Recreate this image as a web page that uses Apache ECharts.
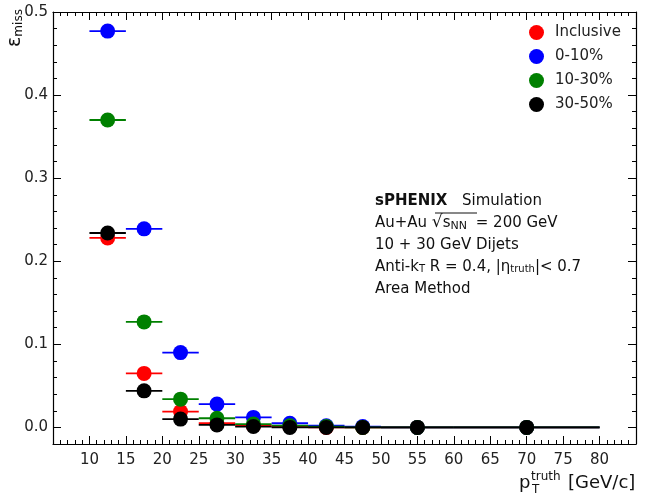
<!DOCTYPE html>
<html>
<head>
<meta charset="utf-8">
<script src="https://cdn.jsdelivr.net/npm/echarts@6/dist/echarts.min.js"></script>
<style>
  html, body { margin: 0; padding: 0; background: #fff; }
  #chart { width: 656px; height: 498px; }
</style>
</head>
<body>
<div id="chart"></div>
<script>
// pT truth bins (GeV/c): centres and edges
const binCenters = [12.5, 17.5, 22.5, 27.5, 32.5, 37.5, 42.5, 47.5, 55, 70];
const binLow     = [10, 15, 20, 25, 30, 35, 40, 45, 50, 60];
const binHigh    = [15, 20, 25, 30, 35, 40, 45, 50, 60, 80];

// miss probability per bin
const inclusive = [0.228, 0.065, 0.019, 0.005, 0.002, 0.001, 0.000, 0.000, 0.000, 0.000];
const cent0_10  = [0.477, 0.239, 0.090, 0.028, 0.012, 0.005, 0.002, 0.001, 0.000, 0.000];
const cent10_30 = [0.370, 0.127, 0.034, 0.011, 0.004, 0.002, 0.001, 0.000, 0.000, 0.000];
const cent30_50 = [0.234, 0.044, 0.010, 0.003, 0.001, 0.000, 0.000, 0.000, 0.000, 0.000];

const seriesNames = ['Inclusive', '0-10%', '10-30%', '30-50%'];
const seriesValues = [inclusive, cent0_10, cent10_30, cent30_50];
const seriesColors = ['#ff0000', '#0000ff', '#008000', '#000000'];

const yMajorTicks = [0, 0.1, 0.2, 0.3, 0.4, 0.5];

const FONT = 'DejaVu Sans';
const chart = echarts.init(document.getElementById('chart'));

function xAxisDef(pos, showLabels) {
  return {
    type: 'value', position: pos, min: 5, max: 85, interval: 5,
    axisLine: { show: true, onZero: false, lineStyle: { color: '#000', width: 1.2 } },
    axisTick: { show: true, inside: true, length: 8, lineStyle: { color: '#000', width: 1 } },
    minorTick: { show: true, splitNumber: 5, length: 4, lineStyle: { color: '#000', width: 1 } },
    splitLine: { show: false },
    axisLabel: {
      show: showLabels, margin: 9, color: '#222', fontFamily: FONT, fontSize: 15,
      formatter: v => (v < 10 || v > 80) ? '' : String(v)
    }
  };
}
function yMinorDef(pos, showLabels) {
  return {
    type: 'value', position: pos, min: -0.02, max: 0.5, interval: 0.02,
    axisLine: { show: true, onZero: false, lineStyle: { color: '#000', width: 1.2 } },
    axisTick: { show: true, inside: true, length: 4, lineStyle: { color: '#000', width: 1 } },
    splitLine: { show: false },
    axisLabel: {
      show: showLabels, margin: 5, color: '#222', fontFamily: FONT, fontSize: 15,
      formatter: v => {
        const k = Math.round(v * 50);
        return (k >= 0 && k % 5 === 0) ? (k / 50).toFixed(1) : '';
      }
    }
  };
}
function yMajorDef(pos) {
  return {
    type: 'value', position: pos, min: -0.02, max: 0.5,
    axisLine: { show: false },
    axisTick: { show: true, inside: true, length: 8, customValues: yMajorTicks,
                lineStyle: { color: '#000', width: 1 } },
    splitLine: { show: false },
    axisLabel: { show: false }
  };
}

const series = [];
let z = 2;
seriesValues.forEach((vals, i) => {
  const color = seriesColors[i];
  const name = seriesNames[i];
  // horizontal bars showing the bin width
  series.push({
    type: 'custom', name: name, xAxisIndex: 0, yAxisIndex: 0, z: z++,
    data: vals.map((v, j) => [binLow[j], binHigh[j], v]),
    renderItem: (params, api) => {
      const p0 = api.coord([api.value(0), api.value(2)]);
      const p1 = api.coord([api.value(1), api.value(2)]);
      return {
        type: 'line',
        shape: { x1: p0[0], y1: p0[1], x2: p1[0], y2: p1[1] },
        style: { stroke: color, lineWidth: 1.8 }
      };
    },
    silent: true
  });
  // markers at bin centres
  series.push({
    type: 'scatter', name: name, xAxisIndex: 0, yAxisIndex: 0, z: z++,
    symbol: 'circle', symbolSize: 15,
    itemStyle: { color: color, opacity: 1 },
    data: vals.map((v, j) => [binCenters[j], v]),
    silent: true
  });
});

const textStyleBase = { fontFamily: FONT, fontSize: 15, fill: '#111' };
const subRich = { fontFamily: FONT, fontSize: 10, verticalAlign: 'bottom', lineHeight: 8, fill: '#111' };

chart.setOption({
  animation: false,
  backgroundColor: '#ffffff',
  grid: { left: 53, right: 20, top: 12, bottom: 54, containLabel: false },
  xAxis: [xAxisDef('bottom', true), xAxisDef('top', false)],
  yAxis: [yMinorDef('left', true), yMajorDef('left'), yMinorDef('right', false), yMajorDef('right')],
  legend: {
    data: seriesNames.map((n, i) => ({ name: n, icon: 'circle', itemStyle: { color: seriesColors[i] } })),
    orient: 'vertical', left: 524, top: 20, itemWidth: 15, itemHeight: 15, itemGap: 9,
    textStyle: { fontFamily: FONT, fontSize: 15, color: '#222', padding: [0, 0, 0, 6] },
    selectedMode: false
  },
  series: series,
  graphic: [
    // y axis title
    { type: 'text', x: 15, y: 28, rotation: Math.PI / 2,
      style: { text: '{e|ε}{s|miss}', align: 'center', verticalAlign: 'middle',
        rich: { e: { fontFamily: FONT, fontSize: 19, fill: '#111' },
                s: { fontFamily: FONT, fontSize: 12, fill: '#111', verticalAlign: 'bottom', lineHeight: 10 } } } },
    // x axis title
    { type: 'text', x: 519, y: 483, style: { text: 'p', fontFamily: FONT, fontSize: 18, fill: '#111', verticalAlign: 'middle' } },
    { type: 'text', x: 531, y: 477, style: { text: 'truth', fontFamily: FONT, fontSize: 12, fill: '#111', verticalAlign: 'middle' } },
    { type: 'text', x: 532, y: 490, style: { text: 'T', fontFamily: FONT, fontSize: 12, fill: '#111', verticalAlign: 'middle' } },
    { type: 'text', x: 568, y: 483, style: { text: '[GeV/c]', fontFamily: FONT, fontSize: 18, fill: '#111', verticalAlign: 'middle' } },
    // annotation block
    { type: 'text', x: 375, y: 201, style: Object.assign({ text: 'sPHENIX', fontWeight: 'bold', verticalAlign: 'middle' }, textStyleBase) },
    { type: 'text', x: 462, y: 201, style: Object.assign({ text: 'Simulation', verticalAlign: 'middle' }, textStyleBase) },
    { type: 'text', x: 375, y: 223, style: { text: 'Au+Au {r|√}{s|s}{sub|NN} = 200 GeV', verticalAlign: 'middle',
        fontFamily: FONT, fontSize: 15, fill: '#111',
        rich: { r: { fontFamily: FONT, fontSize: 17, fill: '#111' }, s: { fontFamily: FONT, fontSize: 15, fill: '#111' },
                sub: { fontFamily: FONT, fontSize: 11, verticalAlign: 'bottom', lineHeight: 8, fill: '#111', padding: [0, 4, 0, 0] } } } },
    { type: 'line', shape: { x1: 435, y1: 213, x2: 477, y2: 213 }, style: { stroke: '#111', lineWidth: 1 } },
    { type: 'text', x: 375, y: 245, style: Object.assign({ text: '10 + 30 GeV Dijets', verticalAlign: 'middle' }, textStyleBase) },
    { type: 'text', x: 375, y: 267, style: { text: 'Anti-k{sub|T} R = 0.4, |η{sub|truth}|< 0.7', verticalAlign: 'middle',
        fontFamily: FONT, fontSize: 15, fill: '#111', rich: { sub: subRich } } },
    { type: 'text', x: 375, y: 289, style: Object.assign({ text: 'Area Method', verticalAlign: 'middle' }, textStyleBase) }
  ]
});
</script>
</body>
</html>
